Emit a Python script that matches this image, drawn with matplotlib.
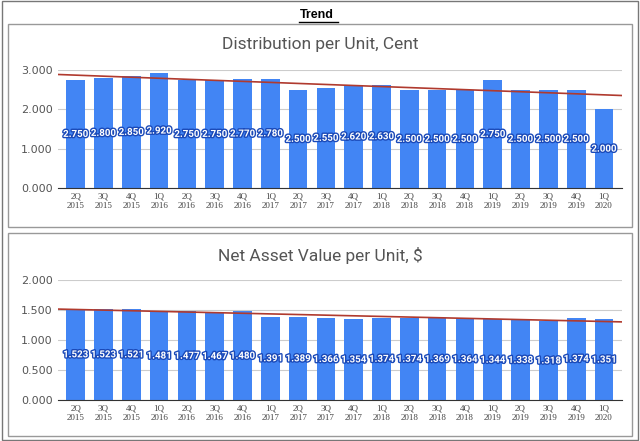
import numpy as np
import matplotlib.pyplot as plt
import matplotlib.patheffects as pe
from matplotlib.patches import Rectangle

quarters = ['2Q\n2015', '3Q\n2015', '4Q\n2015', '1Q\n2016', '2Q\n2016', '3Q\n2016', '4Q\n2016',
            '1Q\n2017', '2Q\n2017', '3Q\n2017', '4Q\n2017', '1Q\n2018', '2Q\n2018', '3Q\n2018',
            '4Q\n2018', '1Q\n2019', '2Q\n2019', '3Q\n2019', '4Q\n2019', '1Q\n2020']
dpu = [2.750, 2.800, 2.850, 2.920, 2.750, 2.750, 2.770, 2.780, 2.500, 2.550,
       2.620, 2.630, 2.500, 2.500, 2.500, 2.750, 2.500, 2.500, 2.500, 2.000]
nav = [1.523, 1.523, 1.521, 1.481, 1.477, 1.467, 1.480, 1.391, 1.389, 1.366,
       1.354, 1.374, 1.374, 1.369, 1.364, 1.344, 1.338, 1.318, 1.374, 1.351]

blue = '#4285f4'
fig = plt.figure(figsize=(6.4, 4.41), dpi=100)

# outer frame and panel boxes
fig.patches.append(Rectangle((0.003, 0.003), 0.994, 0.994, transform=fig.transFigure,
                             fill=False, edgecolor='#777777', lw=1))
for y0, h in [(0.485, 0.46), (0.012, 0.46)]:
    fig.patches.append(Rectangle((0.012, y0), 0.976, h, transform=fig.transFigure,
                                 fill=False, edgecolor='#999999', lw=1))
fig.text(0.495, 0.966, 'Trend', ha='center', va='center', fontsize=9, fontweight='bold',
         family='Liberation Sans')
fig.add_artist(plt.Line2D([0.467, 0.528], [0.949, 0.949], color='black', lw=1))


def panel(rect, vals, ymax, title, title_y):
    ax = fig.add_axes(rect)
    x = np.arange(len(vals))
    ax.bar(x, vals, width=0.67, color=blue, zorder=2)
    k, b = np.polyfit(x, vals, 1)
    xs = np.array([-0.65, len(vals) - 0.35])
    ax.plot(xs, k * xs + b, color='#b03a2e', lw=1.2, zorder=3)
    for xi, v in zip(x, vals):
        ax.text(xi, v / 2, f'{v:.3f}', ha='center', va='center', color='white', fontsize=7,
                family='Roboto', fontweight='bold', zorder=4,
                path_effects=[pe.withStroke(linewidth=2, foreground='#1a49b8')])
    ax.set_xlim(-0.65, len(vals) - 0.35)
    ax.set_ylim(0, ymax)
    ax.set_yticks(np.arange(0, ymax + 0.01, 0.5 if ymax == 2 else 1.0))
    ax.yaxis.set_major_formatter(plt.FuncFormatter(lambda v, p: f'{v:.3f}'))
    ax.grid(axis='y', color='#cccccc', lw=0.8, zorder=0)
    for s in ['top', 'right', 'left']:
        ax.spines[s].set_visible(False)
    ax.spines['bottom'].set_color('#333333')
    ax.tick_params(axis='y', length=0, labelsize=8, labelcolor='#555555')
    ax.tick_params(axis='x', length=0, labelsize=6.5, labelcolor='#444444')
    ax.set_xticks(x)
    ax.set_xticklabels(quarters, family='Liberation Serif')
    fig.text(0.5, title_y, title, ha='center', va='center', fontsize=12.5, color='#555555',
             family='Roboto')
    return ax


panel([0.09, 0.574, 0.882, 0.267], dpu, 3.0, 'Distribution per Unit, Cent', 0.898)
panel([0.09, 0.093, 0.882, 0.272], nav, 2.0, 'Net Asset Value per Unit, $', 0.42)

fig.savefig('out.png', dpi=100)
